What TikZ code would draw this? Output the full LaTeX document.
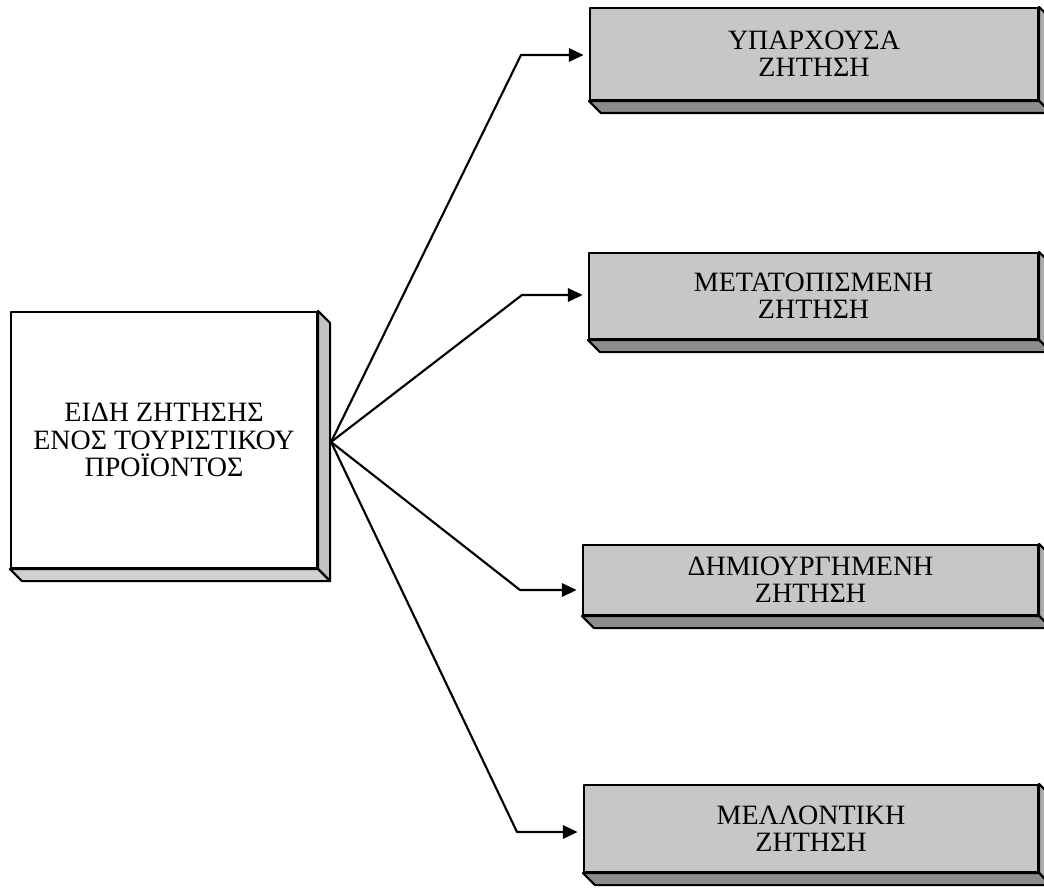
\documentclass[tikz,border=0pt]{standalone}
\usepackage{fontspec}
\setmainfont{Liberation Serif}
\usetikzlibrary{calc,arrows.meta}

\tikzset{
  face/.style={draw=black, line width=1.6pt, line join=round},
  mainbox/.style={face, fill=white, inner sep=0pt, align=center,
    font=\fontsize{21}{20.5}\selectfont},
  kindbox/.style={face, fill=black!22, inner sep=0pt, align=center,
    font=\fontsize{21}{20.5}\selectfont},
  sidegray/.style={face, fill=black!32},
  floorgray/.style={face, fill=black!45},
  mainside/.style={face, fill=black!24},
  mainfloor/.style={face, fill=black!18},
  link/.style={draw=black, line width=1.6pt, line join=round,
    -{Triangle[length=11pt,width=10pt]}, shorten >=4pt},
}

% extrude a box: right face and bottom face, 12 units deep
\newcommand{\extrude}[3]{%
  \path[#2] (#1.north east) -- ++(12,12) -- ($(#1.south east)+(12,12)$)
    -- (#1.south east) -- cycle;
  \path[#3] (#1.south west) -- (#1.south east) -- ++(12,12)
    -- ($(#1.south west)+(12,12)$) -- cycle;
}

\begin{document}
\begin{tikzpicture}[x=0.75pt, y=-0.75pt]
  \useasboundingbox (0,0) rectangle (1044,891);
  \fill[white] (0,0) rectangle (1044,891);
  \clip (0,0) rectangle (1044,891);

  % central box
  \node[mainbox, minimum width=229.5pt, minimum height=192pt] (L) at (164,440)
    {ΕΙΔΗ ΖΗΤΗΣΗΣ\\ΕΝΟΣ ΤΟΥΡΙΣΤΙΚΟΥ\\ΠΡΟΪΟΝΤΟΣ};
  \extrude{L}{mainside}{mainfloor}

  % kinds of demand
  \node[kindbox, minimum width=336pt, minimum height=69pt] (K1) at (814,54)
    {ΥΠΑΡΧΟΥΣΑ\\ΖΗΤΗΣΗ};
  \extrude{K1}{sidegray}{floorgray}
  \node[kindbox, minimum width=336.75pt, minimum height=64.5pt] (K2) at (813.5,296)
    {ΜΕΤΑΤΟΠΙΣΜΕΝΗ\\ΖΗΤΗΣΗ};
  \extrude{K2}{sidegray}{floorgray}
  \node[kindbox, minimum width=341.25pt, minimum height=52.5pt] (K3) at (810.5,580)
    {ΔΗΜΙΟΥΡΓΗΜΕΝΗ\\ΖΗΤΗΣΗ};
  \extrude{K3}{sidegray}{floorgray}
  \node[kindbox, minimum width=340.5pt, minimum height=65.25pt] (K4) at (811,828.5)
    {ΜΕΛΛΟΝΤΙΚΗ\\ΖΗΤΗΣΗ};
  \extrude{K4}{sidegray}{floorgray}

  % fan-out point on the side face and bends
  \path (L.east) ++(13,2) coordinate (hub);
  \coordinate (b1) at (521,55);
  \coordinate (b2) at (522,295);
  \coordinate (b3) at (520,590);
  \coordinate (b4) at (517,832);

  \draw[link] (hub) -- (b1) -- (b1 -| K1.west);
  \draw[link] (hub) -- (b2) -- (b2 -| K2.west);
  \draw[link] (hub) -- (b3) -- (b3 -| K3.west);
  \draw[link] (hub) -- (b4) -- (b4 -| K4.west);
\end{tikzpicture}
\end{document}
